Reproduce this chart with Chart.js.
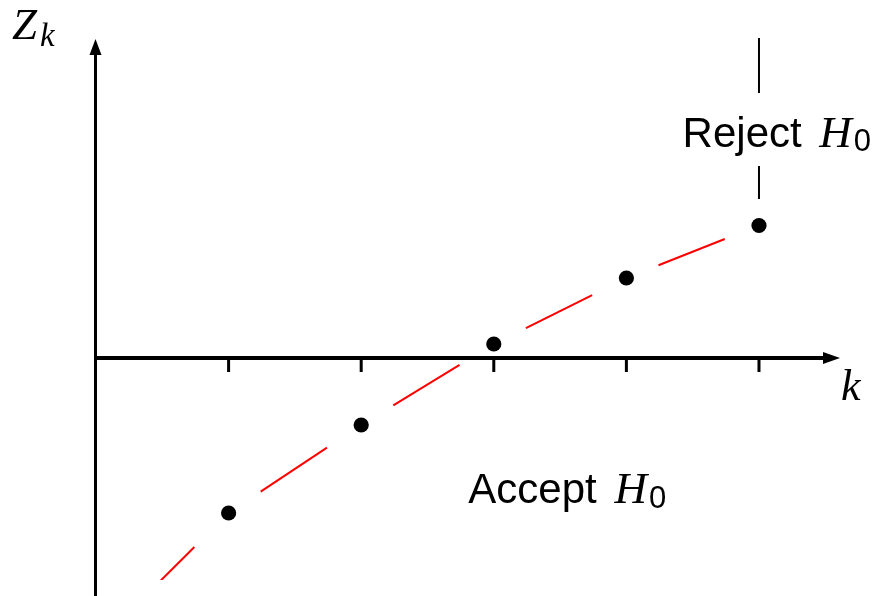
<!DOCTYPE html>
<html>
<head>
<meta charset="utf-8">
<script src="https://cdn.jsdelivr.net/npm/chart.js@4.4.0/dist/chart.umd.min.js"></script>
<style>
  html, body { margin: 0; padding: 0; background: #fff; overflow: hidden; }
  canvas { display: block; }
</style>
</head>
<body>
<canvas id="c" width="877" height="596"></canvas>
<script>
// ---- data ----
const stageK = [1, 2, 3, 4, 5];                       // k values of the observed statistics
const zValues = [-1.55, -0.67, 0.14, 0.80, 1.325];    // Z_k at each stage
const lineK = [0, 1, 2, 3, 4, 5];                     // k values of the red dashed path
const lineZ = [-2.87, -1.55, -0.67, 0.14, 0.80, 1.325];
const tickK = [1, 2, 3, 4, 5];                        // tick marks on the k axis
const boundaryK = [5, 5, 5, 5, 5];                    // rejection boundary at the last stage
const boundaryZ = [3.2, 2.65, null, 1.92, 1.59];
const xRange = [0, 5.611];
const yRange = [-2.38, 3.2];

const pts = (xs, ys) => xs.map((x, i) => ({ x, y: ys[i] }));

const SANS = '"Liberation Sans", Arial, sans-serif';
const SERIF = '"Liberation Serif", "Times New Roman", serif';

const axesPlugin = {
  id: 'axesPlugin',
  beforeDatasetsDraw(chart) {
    const { ctx, chartArea: a, scales: { x, y } } = chart;
    const x0 = x.getPixelForValue(0) - 0.5;
    const y0 = y.getPixelForValue(0);
    const xEnd = x.getPixelForValue(xRange[1]);
    ctx.save();
    ctx.fillStyle = '#000';
    ctx.strokeStyle = '#000';
    // y axis with arrow
    ctx.lineWidth = 3;
    ctx.beginPath();
    ctx.moveTo(x0, chart.height);
    ctx.lineTo(x0, a.top + 14);
    ctx.stroke();
    ctx.beginPath();
    ctx.moveTo(x0, a.top + 1);
    ctx.lineTo(x0 - 6, a.top + 17);
    ctx.lineTo(x0 + 6, a.top + 17);
    ctx.closePath();
    ctx.fill();
    // k axis with arrow
    ctx.lineWidth = 3.8;
    ctx.beginPath();
    ctx.moveTo(x0 - 1.5, y0);
    ctx.lineTo(xEnd - 14, y0);
    ctx.stroke();
    ctx.beginPath();
    ctx.moveTo(xEnd, y0);
    ctx.lineTo(xEnd - 17, y0 - 6);
    ctx.lineTo(xEnd - 17, y0 + 6);
    ctx.closePath();
    ctx.fill();
    // tick marks
    ctx.lineWidth = 3;
    tickK.forEach(k => {
      const px = x.getPixelForValue(k);
      ctx.beginPath();
      ctx.moveTo(px, y0);
      ctx.lineTo(px, y0 + 14);
      ctx.stroke();
    });
    ctx.restore();
  },
  afterDatasetsDraw(chart) {
    const { ctx, chartArea: a, scales: { x, y } } = chart;
    const y0 = y.getPixelForValue(0);
    const xEnd = x.getPixelForValue(xRange[1]);
    ctx.save();
    ctx.fillStyle = '#000';
    ctx.textBaseline = 'alphabetic';
    ctx.textAlign = 'left';
    // Z_k axis label
    ctx.font = 'italic 45px ' + SERIF;
    ctx.fillText('Z', a.left - 84, a.top + 1);
    const zw = ctx.measureText('Z').width;
    ctx.font = 'italic 33px ' + SERIF;
    ctx.fillText('k', a.left - 84 + zw + 3, a.top + 8);
    // k axis label
    ctx.font = 'italic 44px ' + SERIF;
    ctx.fillText('k', xEnd + 1, y0 + 42);

    function hyp(word, k, z) {
      const lx = x.getPixelForValue(k);
      const by = y.getPixelForValue(z);
      ctx.font = '42px ' + SANS;
      ctx.fillText(word, lx, by);
      const w = ctx.measureText(word + ' ').width;
      ctx.font = 'italic 45px ' + SERIF;
      const hx = lx + w + 6;
      ctx.fillText('H', hx, by);
      const hw = ctx.measureText('H').width;
      ctx.font = '31px ' + SANS;
      ctx.fillText('0', hx + hw + 2, by + 4.5);
    }
    hyp('Reject', 4.424, 2.113);
    hyp('Accept', 2.808, -1.453);
    ctx.restore();
  }
};

new Chart(document.getElementById('c'), {
  type: 'scatter',
  data: {
    datasets: [
      {
        label: 'path',
        data: pts(lineK, lineZ),
        showLine: true,
        borderColor: '#ff0000',
        borderWidth: 2,
        pointRadius: 0,
        clip: { left: 0, top: 0, right: 0, bottom: -16 },
        segment: {
          borderDash: c => {
            const L = Math.hypot(c.p1.x - c.p0.x, c.p1.y - c.p0.y);
            return [L * 0.5, L * 3];
          },
          borderDashOffset: c => {
            const L = Math.hypot(c.p1.x - c.p0.x, c.p1.y - c.p0.y);
            return -L * 0.242;
          }
        }
      },
      {
        label: 'boundary',
        data: pts(boundaryK, boundaryZ),
        showLine: true,
        spanGaps: false,
        borderColor: '#000',
        borderWidth: 2,
        pointRadius: 0
      },
      {
        label: 'Z_k',
        data: pts(stageK, zValues),
        showLine: false,
        backgroundColor: '#000',
        borderWidth: 0,
        pointRadius: 7.6
      }
    ]
  },
  options: {
    responsive: false,
    animation: false,
    events: [],
    layout: { autoPadding: false, padding: { left: 96, right: 37, top: 38, bottom: 0 } },
    plugins: { legend: { display: false }, tooltip: { enabled: false } },
    scales: {
      x: { type: 'linear', display: false, min: xRange[0], max: xRange[1] },
      y: { type: 'linear', display: false, min: yRange[0], max: yRange[1] }
    }
  },
  plugins: [axesPlugin]
});
</script>
</body>
</html>
